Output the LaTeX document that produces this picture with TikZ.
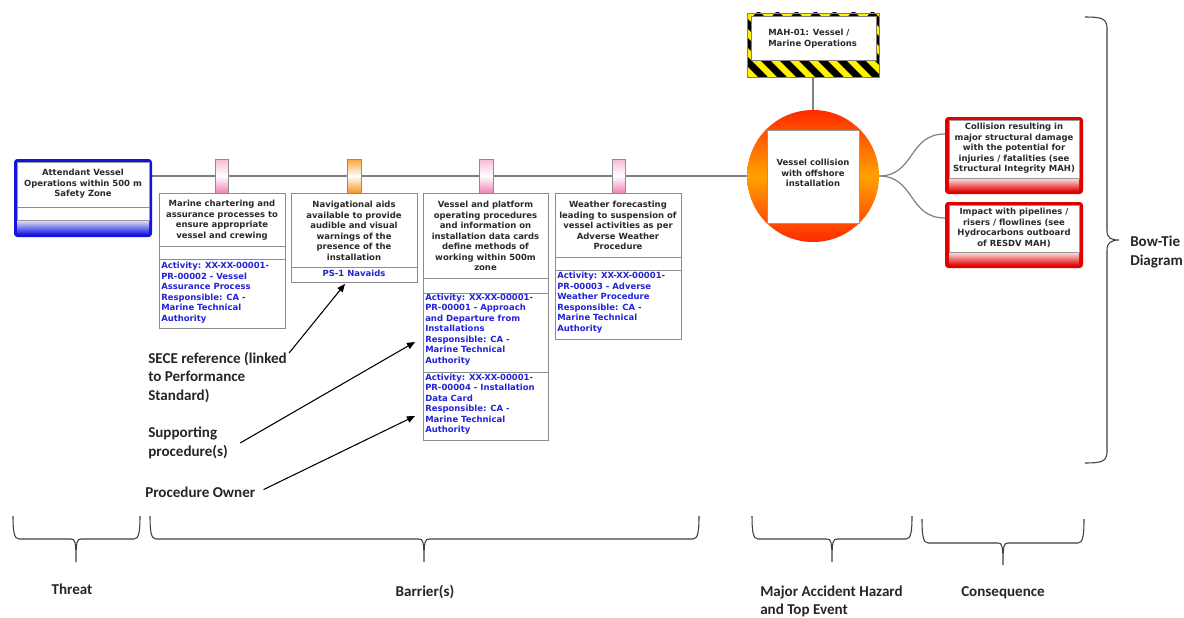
\documentclass[tikz,border=0pt]{standalone}
\usepackage{fontspec}
\newfontfamily\bxf{DejaVu Sans}
\newfontfamily\clf{Carlito}
\usetikzlibrary{arrows.meta,fit}
\definecolor{txtgray}{HTML}{2A2A2A}
\definecolor{bluetxt}{HTML}{2323D8}
\definecolor{linegray}{HTML}{808080}
\definecolor{thrblue}{HTML}{1414E0}
\definecolor{conred}{HTML}{E00000}
\definecolor{tabpink}{HTML}{F27FB5}
\definecolor{taborange}{HTML}{F7941D}
\definecolor{hazyellow}{HTML}{FFF200}
\definecolor{topred}{HTML}{FF2A00}
\definecolor{toporange}{HTML}{FFA200}
\tikzset{
 frame/.style={inner sep=0pt, outer sep=0pt},
 boxtxt/.style={font=\bxf\bfseries\fontsize{6.35}{7.9}\selectfont, text=txtgray, inner sep=0pt, align=center, anchor=north},
 bluetx/.style={font=\bxf\bfseries\fontsize{6.35}{7.9}\selectfont, text=bluetxt, inner sep=0pt, align=left, anchor=north west},
 lbl/.style={font=\clf\bfseries\fontsize{11.3}{13.9}\selectfont, text=black!85, inner sep=0pt, align=left},
 mainline/.style={draw=linegray, line width=1.1pt},
 boxborder/.style={draw=black!45, line width=0.6pt},
 sep/.style={draw=black!45, line width=0.5pt},
 brace/.style={draw=black!75, line width=0.8pt},
 tabbox/.style={draw=black!45, line width=0.5pt},
 arr/.style={draw=black, line width=0.8pt, -{Triangle[length=6pt,width=5pt]}},
}
\newcommand{\hbr}[6]{\draw[brace] (#1,#4) .. controls (#1,#5-8) and (#1+1,#5) .. (#1+6,#5) -- (#3-5,#5) .. controls (#3-1,#5) and (#3,#5+2) .. (#3,#6) .. controls (#3,#5+2) and (#3+1,#5) .. (#3+5,#5) -- (#2-6,#5) .. controls (#2-1,#5) and (#2,#5-8) .. (#2,#4);}
\begin{document}
\begin{tikzpicture}[x=0.75pt,y=-0.75pt]
\useasboundingbox (0,0) rectangle (1184,617);
\fill[white] (0,0) rectangle (1184,617);

% structural nodes
\node[frame, fit={(14,159)(152,237)}] (threat) {};
\node[frame, circle, minimum size=99pt, top color=topred, bottom color=topred, middle color=toporange] (top) at (813,176) {};
\node[frame, fit={(747,13)(879,77)}, fill=hazyellow] (mah) {};
\node[frame, fit={(159,193)(285,328)}, fill=white, boxborder] (bar1) {};
\node[frame, fit={(291,193)(417,282)}, fill=white, boxborder] (bar2) {};
\node[frame, fit={(423,193)(548,440)}, fill=white, boxborder] (bar3) {};
\node[frame, fit={(555,193)(681,339)}, fill=white, boxborder] (bar4) {};
\node[frame, fit={(945,117)(1083,194)}] (cons1) {};
\node[frame, fit={(945,202)(1083,268)}] (cons2) {};

% main line
\draw[mainline] (threat.north east |- top.west) -- (top.west);
\draw[mainline] (mah.south) -- (top.north);

% threat box
\fill[thrblue, rounded corners=2.5pt] (threat.north west) rectangle (threat.south east);
\shade[top color=thrblue!10!white, bottom color=thrblue] (17,220) rectangle (149,234.5);
\filldraw[fill=white, draw=black!40, line width=0.5pt] (17,162) rectangle (149,220);
\draw[sep] (17,207) -- (149,207);
\node[boxtxt] (threattxt) at (83,169) {Attendant Vessel\\Operations within 500 m\\Safety Zone};

% tabs
\node[frame, fit={(215,159)(228,193)}, tabbox, top color=tabpink!55!white, bottom color=tabpink, middle color=white] (tab1) {};
\node[frame, fit={(347,159)(361,193)}, tabbox, top color=taborange!85!white, bottom color=taborange, middle color=white] (tab2) {};
\node[frame, fit={(479,159)(493,193)}, tabbox, top color=tabpink!55!white, bottom color=tabpink, middle color=white] (tab3) {};
\node[frame, fit={(612,159)(625,193)}, tabbox, top color=tabpink!55!white, bottom color=tabpink, middle color=white] (tab4) {};

% barrier 1
\draw[sep] (159,246) -- (285,246);
\draw[sep] (159,259) -- (285,259);
\node[boxtxt] (b1t) at (222,200) {Marine chartering and\\assurance processes to\\ensure appropriate\\vessel and crewing};
\node[bluetx] (b1a) at (161,262) {Activity: XX-XX-00001-\\PR-00002 - Vessel\\Assurance Process\\Responsible: CA -\\Marine Technical\\Authority};

% barrier 2
\draw[sep] (291,267) -- (417,267);
\node[boxtxt] (b2t) at (354,201) {Navigational aids\\available to provide\\audible and visual\\warnings of the\\presence of the\\installation};
\node[boxtxt, text=bluetxt] (b2s) at (354,269.5) {PS-1 Navaids};

% barrier 3
\draw[sep] (423,278) -- (548,278);
\draw[sep] (423,293) -- (548,293);
\draw[sep] (423,372) -- (548,372);
\node[boxtxt] (b3t) at (485.5,201) {Vessel and platform\\operating procedures\\and information on\\installation data cards\\define methods of\\working within 500m\\zone};
\node[bluetx] (b3a) at (425,293.5) {Activity: XX-XX-00001-\\PR-00001 - Approach\\and Departure from\\Installations\\Responsible: CA -\\Marine Technical\\Authority};
\node[bluetx] (b3b) at (425,373.5) {Activity: XX-XX-00001-\\PR-00004 - Installation\\Data Card\\Responsible: CA -\\Marine Technical\\Authority};

% barrier 4
\draw[sep] (555,257) -- (681,257);
\draw[sep] (555,270) -- (681,270);
\node[boxtxt] (b4t) at (618,201) {Weather forecasting\\leading to suspension of\\vessel activities as per\\Adverse Weather\\Procedure};
\node[bluetx] (b4a) at (557,272) {Activity: XX-XX-00001-\\PR-00003 - Adverse\\Weather Procedure\\Responsible: CA -\\Marine Technical\\Authority};

% top event
\node[frame, fit={(767,130)(859,223)}, fill=white, draw=black!40, line width=0.5pt] (topsq) {};
\node[boxtxt] (toptxt) at (813,159) {Vessel collision\\with offshore\\installation};

% MAH hazard box
\begin{scope}
\clip (mah.north west) rectangle (mah.south east);
\foreach \i in {0,...,11} \draw[black, line width=5.2pt] (680+\i*19,13) -- ++(66,66);
\end{scope}
\filldraw[fill=white, draw=black!50, line width=0.5pt] (751,16) rectangle (876,60);
\draw[black!50, line width=0.6pt] (mah.north west) rectangle (mah.south east);
\node[boxtxt, anchor=north west, align=left] (mahtxt) at (768,29) {MAH-01: Vessel /\\Marine Operations};

% consequences
\fill[conred, rounded corners=2.5pt] (cons1.north west) rectangle (cons1.south east);
\shade[top color=conred!10!white, bottom color=conred] (949,178) rectangle (1079,191.5);
\filldraw[fill=white, draw=black!40, line width=0.5pt] (949,120) rectangle (1079,178);
\node[boxtxt] (c1t) at (1014,123) {Collision resulting in\\major structural damage\\with the potential for\\injuries / fatalities (see\\Structural Integrity MAH)};

\fill[conred, rounded corners=2.5pt] (cons2.north west) rectangle (cons2.south east);
\shade[top color=conred!10!white, bottom color=conred] (949,252) rectangle (1079,265.5);
\filldraw[fill=white, draw=black!40, line width=0.5pt] (949,205) rectangle (1079,252);
\node[boxtxt] (c2t) at (1014,208) {Impact with pipelines /\\risers / flowlines (see\\Hydrocarbons outboard\\of RESDV MAH)};

\coordinate (c1in) at (945,134);
\coordinate (c2in) at (945,218);
\draw[mainline, line width=0.9pt] (top.east) .. controls (915,176) and (908,134) .. (c1in);
\draw[mainline, line width=0.9pt] (top.east) .. controls (915,176) and (908,218) .. (c2in);

% annotations
\node[lbl, anchor=north west] (sece) at (148,352) {SECE reference (linked\\to Performance\\Standard)};
\node[lbl, anchor=north west] (supp) at (148,427) {Supporting\\procedure(s)};
\node[lbl, anchor=north west] (owner) at (145,487) {Procedure Owner};
\coordinate (a1) at (345,284);
\coordinate (a2) at (415,342);
\coordinate (a3) at (415,416);
\draw[arr] ([shift={(2,1)}]sece.north east) -- (a1);
\draw[arr] ([shift={(12,0)}]supp.east) -- (a2);
\draw[arr] ([shift={(8,-3)}]owner.east) -- (a3);

% right brace
\draw[brace] (1085,17) .. controls (1100,17) and (1107,18) .. (1107,28) -- (1107,231) .. controls (1107,238) and (1111,240) .. (1119,240) .. controls (1111,240) and (1107,243) .. (1107,250) -- (1107,452) .. controls (1107,462) and (1100,463) .. (1085,463);
\node[lbl, anchor=north west] (bowtie) at (1130,236) {Bow-Tie\\Diagram};

% bottom braces
\hbr{13}{140}{76}{516}{539}{562}
\hbr{150}{699}{424}{516}{539}{562}
\hbr{752}{912}{832}{516}{539}{562}
\hbr{922}{1084}{1003}{519}{543}{565}
\node[lbl, anchor=north] (lthreat) at (72,583.5) {Threat};
\node[lbl, anchor=north] (lbarrier) at (425,585.5) {Barrier(s)};
\node[lbl, anchor=north west] (lmah) at (760,585.5) {Major Accident Hazard\\and Top Event};
\node[lbl, anchor=north] (lcons) at (1003,586.5) {Consequence};
\end{tikzpicture}
\end{document}
